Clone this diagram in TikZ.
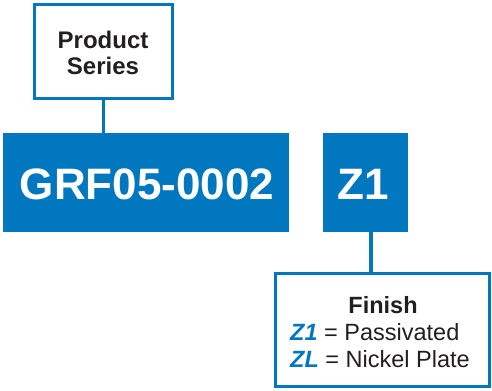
\documentclass[tikz,border=0pt]{standalone}
\usepackage{fontspec}
\setmainfont{Liberation Sans}
\definecolor{gblue}{RGB}{0,119,190}
\definecolor{gtext}{RGB}{35,31,32}
\begin{document}
\begin{tikzpicture}[x=1bp,y=-1bp,
  outline/.style={draw=gblue,line width=3bp,fill=white,inner sep=0pt},
  solidbox/.style={fill=gblue,draw=none,inner sep=0pt},
  conn/.style={draw=gblue,line width=3.5bp},
  txt/.style={inner sep=0pt,anchor=base,text=gtext}]
\useasboundingbox (0,0) rectangle (492,390);
% boxes
\node[outline,minimum width=138bp,minimum height=94bp] (prod) at (103.5,51.5) {};
\node[solidbox,minimum width=286bp,minimum height=99bp] (grf) at (146,182.5) {};
\node[solidbox,minimum width=85bp,minimum height=99bp] (z1) at (365.5,182.5) {};
\node[outline,minimum width=214bp,minimum height=113bp] (fin) at (382.5,330) {};
% connectors
\coordinate (zc) at (371,232);
\draw[conn] (prod.south) -- (prod.south |- grf.north);
\draw[conn] (zc) -- (zc |- fin.north);
% texts
\node[txt] (t1) at (103,48) {\fontsize{24bp}{26bp}\selectfont\bfseries Product};
\node[txt] (t2) at (103,74) {\fontsize{24bp}{26bp}\selectfont\bfseries Series};
\node[txt,text=white] (t3) at (147,199) {\fontsize{44bp}{48bp}\selectfont\bfseries GRF05-0002};
\node[txt,text=white] (t4) at (363,199) {\fontsize{44bp}{48bp}\selectfont\bfseries Z1};
\node[txt] (t5) at (383,313) {\fontsize{23.5bp}{26bp}\selectfont\bfseries Finish};
\node[txt,anchor=base west] (t6) at (290,340) {\fontsize{23.5bp}{26bp}\selectfont\textcolor{gblue}{\bfseries\itshape Z1} = Passivated};
\node[txt,anchor=base west] (t7) at (290,367) {\fontsize{23.5bp}{26bp}\selectfont\textcolor{gblue}{\bfseries\itshape ZL} = Nickel Plate};
\end{tikzpicture}
\end{document}
